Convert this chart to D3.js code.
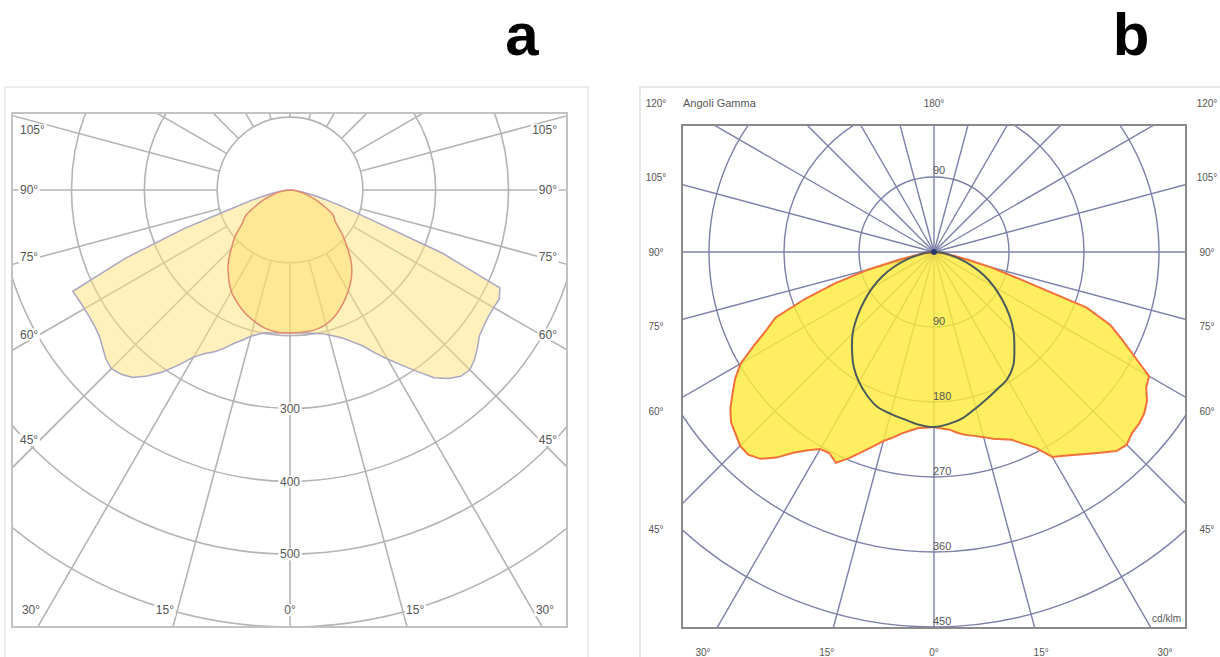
<!DOCTYPE html>
<html>
<head>
<meta charset="utf-8">
<script src="https://cdn.jsdelivr.net/npm/d3@7/dist/d3.min.js"></script>
<style>
  body { margin: 0; background: #fff; }
  svg { display: block; }
  text { font-family: "Liberation Sans", Arial, sans-serif; }
</style>
</head>
<body>
<svg id="chart" width="1220" height="657"></svg>
<script>
// ---------------- data ----------------
// gamma angles (degrees, 0 = nadir) at which intensities are tabulated
const gammaFine   = [0,2.5,5,7.5,10,12.5,15,17.5,20,22.5,25,27.5,30,32.5,35,37.5,40,42.5,45,
                     47.5,50,52.5,55,57.5,60,62.5,65,67.5,70,72.5,75,77.5,80,82.5,85,87.5,90];
const gammaCoarse = [0,5,10,15,20,25,30,35,40,45,50,55,60,65,70,75,80,85,90];

// luminaire a — intensities in cd/klm
const aTransverseLeft  = [196,196,197,198,199,203,208,216,224,235,245,253,265,285,305,322,336,343,347,
                          343,336,330,327,326,326,327,329,245,154,82,55,35,22,13,7,3,0];
const aTransverseRight = [196,196,197,198,200,202,206,211,217,226,236,252,268,285,304,325,338,347,349,
                          344,336,328,325,323,323,324,318,226,116,75,50,33,20,12,6,2,0];
const aAxialLeft  = [196,196,193,187,180,171,161,147,132,114,98,80,70,52,37,24,13,5,0];
const aAxialRight = [196,196,195,191,183,172,160,147,131,111,93,76,68,50,35,23,12,5,0];

// luminaire b — intensities in cd/klm
const bTransverseLeft  = [210,211,212,216,221,228,235,245,256,268,279,272,273,282,294,311,324,330,329,
                          323,318,308,295,283,268,244,222,206,165,124,82,43,22,12,6,2,0];
const bTransverseRight = [210,212,214,219,223,226,230,235,239,244,254,265,284,290,297,305,314,324,327,
                          322,321,318,312,302,298,271,249,229,195,108,70,40,22,12,6,2,0];
const bAxialLeft  = [210,208,204,201,198,190,180,168,153,138,120,102,85,68,50,33,18,8,0];
const bAxialRight = [210,207,202,194,187,181,176,166,150,135,118,100,83,66,48,32,18,8,0];

// grid values
const ringsA = [100,200,300,400,500,600];
const ringLabelsA = [300,400,500];
const ringsB = [90,180,270,360,450];
const rayAngles = [0,15,30,45,60,75,90,105,120,135,150,165,180];
const sideLabelAnglesA = [45,60,75,90,105];
const bottomLabelAngles = [0,15,30];
const sideLabelAnglesB = [45,60,75,90,105,120];

// ---------------- helpers ----------------
const svg = d3.select("#chart");
const defs = svg.append("defs");
const rad = d => d * Math.PI / 180;
// lineRadial angle: right half (side +1) and left half (side -1), gamma measured from nadir
const theta = (g, side) => Math.PI - side * rad(g);

function outline(gammas, left, right) {
  const L = gammas.map((g, i) => ({ g, v: left[i], side: -1 })).reverse();
  const R = gammas.map((g, i) => ({ g, v: right[i], side: 1 })).slice(1);
  return L.concat(R);
}

function polarLine(r, curve) {
  return d3.lineRadial()
    .angle(d => theta(d.g, d.side))
    .radius(d => r(d.v))
    .curve(curve);
}

function labelWithBg(g, x, y, txt, anchor, size, color) {
  const t = g.append("text")
    .attr("x", x).attr("y", y)
    .attr("dy", "0.35em")
    .attr("text-anchor", anchor)
    .attr("font-size", size)
    .attr("fill", color)
    .text(txt);
  const b = t.node().getBBox();
  g.insert("rect", () => t.node())
    .attr("x", b.x - 1.5).attr("y", b.y + 1)
    .attr("width", b.width + 3).attr("height", b.height - 2)
    .attr("fill", "#fff");
  return t;
}

function rays(g, r, inner) {
  const data = [];
  rayAngles.forEach(a => {
    data.push({ g: a, side: 1 });
    if (a !== 0 && a !== 180) data.push({ g: a, side: -1 });
  });
  g.selectAll("line.ray").data(data).join("line")
    .attr("class", "ray")
    .each(function (d) {
      const p0 = d3.pointRadial(theta(d.g, d.side), r(inner));
      const p1 = d3.pointRadial(theta(d.g, d.side), 900);
      d3.select(this).attr("x1", p0[0]).attr("y1", p0[1]).attr("x2", p1[0]).attr("y2", p1[1]);
    });
}

// ---------------- titles ----------------
svg.append("text").attr("x", 522).attr("y", 55).attr("text-anchor", "middle")
  .attr("font-size", 60).attr("font-weight", "bold").attr("fill", "#000").text("a");
svg.append("text").attr("x", 1131).attr("y", 55).attr("text-anchor", "middle")
  .attr("font-size", 60).attr("font-weight", "bold").attr("fill", "#000").text("b");

// ================= panel a =================
(function () {
  const cx = 290, cy = 190;
  const fx0 = 12, fy0 = 113, fx1 = 567, fy1 = 627;
  const r = d3.scaleLinear().domain([0, 600]).range([0, 437]);

  svg.append("rect").attr("x", 5).attr("y", 87).attr("width", 583).attr("height", 580)
    .attr("fill", "#fff").attr("stroke", "#ececec").attr("stroke-width", 2);

  defs.append("clipPath").attr("id", "clipA").append("rect")
    .attr("x", fx0).attr("y", fy0).attr("width", fx1 - fx0).attr("height", fy1 - fy0);

  const grid = svg.append("g").attr("clip-path", "url(#clipA)")
    .append("g").attr("transform", `translate(${cx},${cy})`)
    .attr("stroke", "#b4b4b4").attr("stroke-width", 1.6).attr("fill", "none");
  grid.selectAll("circle").data(ringsA).join("circle").attr("r", d => r(d));
  rays(grid, r, 100);

  const plot = svg.append("g").attr("transform", `translate(${cx},${cy})`);
  plot.append("path")
    .attr("d", polarLine(r, d3.curveLinearClosed)(outline(gammaFine, aTransverseLeft, aTransverseRight)))
    .attr("fill", "#ffe27a").attr("fill-opacity", 0.5)
    .attr("stroke", "#aaa6c4").attr("stroke-width", 1.5);
  plot.append("path")
    .attr("d", polarLine(r, d3.curveCatmullRomClosed)(outline(gammaCoarse, aAxialLeft, aAxialRight)))
    .attr("fill", "#ffdc60").attr("fill-opacity", 0.42)
    .attr("stroke", "#e28a6c").attr("stroke-width", 1.5);

  svg.append("rect").attr("x", fx0).attr("y", fy0).attr("width", fx1 - fx0).attr("height", fy1 - fy0)
    .attr("fill", "none").attr("stroke", "#c2c2c2").attr("stroke-width", 2);

  const lab = svg.append("g");
  const col = "#555", fs = 12;
  sideLabelAnglesA.forEach(a => {
    let y = cy + (cx - 40) * Math.cos(rad(a)) / Math.sin(rad(a));
    y = Math.max(fy0 + 17, Math.min(fy1 - 17, y));
    labelWithBg(lab, 20, y, a + "°", "start", fs, col);
    labelWithBg(lab, 557, y, a + "°", "end", fs, col);
  });
  bottomLabelAngles.forEach(a => {
    const dx = (fy1 - cy + 30) * Math.tan(rad(a));
    const xl = Math.max(fx0 + 19, cx - dx), xr = Math.min(fx1 - 22, cx + dx);
    labelWithBg(lab, xl, 610, a + "°", "middle", fs, col);
    if (a !== 0) labelWithBg(lab, xr, 610, a + "°", "middle", fs, col);
  });
  ringLabelsA.forEach(v => labelWithBg(lab, cx, cy + r(v), String(v), "middle", fs, col));
})();

// ================= panel b =================
(function () {
  const cx = 934, cy = 252;
  const fx0 = 682, fy0 = 125, fx1 = 1186, fy1 = 628;
  const r = d3.scaleLinear().domain([0, 450]).range([0, 375]);

  svg.append("path").attr("d", "M640,657 V87 H1220")
    .attr("fill", "none").attr("stroke", "#e8e8e8").attr("stroke-width", 2);

  defs.append("clipPath").attr("id", "clipB").append("rect")
    .attr("x", fx0).attr("y", fy0).attr("width", fx1 - fx0).attr("height", fy1 - fy0);

  const grid = svg.append("g").attr("clip-path", "url(#clipB)")
    .append("g").attr("transform", `translate(${cx},${cy})`)
    .attr("stroke", "#7c80a8").attr("stroke-width", 1.4).attr("fill", "none");
  grid.selectAll("circle").data(ringsB).join("circle").attr("r", d => r(d));
  rays(grid, r, 0);

  const plot = svg.append("g").attr("transform", `translate(${cx},${cy})`);
  plot.append("path")
    .attr("d", polarLine(r, d3.curveLinearClosed)(outline(gammaFine, bTransverseLeft, bTransverseRight)))
    .attr("fill", "#ffea3c").attr("fill-opacity", 0.82)
    .attr("stroke", "#f2703a").attr("stroke-width", 2);
  plot.append("path")
    .attr("d", polarLine(r, d3.curveCatmullRomClosed)(outline(gammaCoarse, bAxialLeft, bAxialRight)))
    .attr("fill", "none").attr("stroke", "#4c5a5c").attr("stroke-width", 2);
  plot.append("circle").attr("r", 3).attr("fill", "#2c3a70");

  svg.append("rect").attr("x", fx0).attr("y", fy0).attr("width", fx1 - fx0).attr("height", fy1 - fy0)
    .attr("fill", "none").attr("stroke", "#8a8a8a").attr("stroke-width", 2);

  const lab = svg.append("g").attr("fill", "#555");
  const fs = 10;
  // ring values along the vertical axis
  lab.append("text").attr("x", cx - 1).attr("y", cy - r(ringsB[0]) - 3)
    .attr("font-size", 11).text(String(ringsB[0]));
  ringsB.forEach(v => lab.append("text").attr("x", cx - 1).attr("y", cy + r(v) - 2)
    .attr("font-size", 11).text(String(v)));

  // gamma angles around the frame
  sideLabelAnglesB.forEach(a => {
    let y = cy + (cx - 657) * Math.cos(rad(a)) / Math.sin(rad(a));
    y = Math.max(103, Math.min(652, y));
    lab.append("text").attr("x", 656).attr("y", y).attr("dy", "0.35em")
      .attr("text-anchor", "middle").attr("font-size", fs).text(a + "°");
    lab.append("text").attr("x", 1207).attr("y", y).attr("dy", "0.35em")
      .attr("text-anchor", "middle").attr("font-size", fs).text(a + "°");
  });
  bottomLabelAngles.forEach(a => {
    const dx = (652 - cy) * Math.tan(rad(a));
    lab.append("text").attr("x", cx - dx).attr("y", 652).attr("dy", "0.35em")
      .attr("text-anchor", "middle").attr("font-size", fs).text(a + "°");
    if (a !== 0) lab.append("text").attr("x", cx + dx).attr("y", 652).attr("dy", "0.35em")
      .attr("text-anchor", "middle").attr("font-size", fs).text(a + "°");
  });
  lab.append("text").attr("x", cx).attr("y", 103).attr("dy", "0.35em")
    .attr("text-anchor", "middle").attr("font-size", fs).text("180°");
  lab.append("text").attr("x", 683).attr("y", 103).attr("dy", "0.35em")
    .attr("font-size", 11).text("Angoli Gamma");
  lab.append("text").attr("x", 1181).attr("y", 622)
    .attr("text-anchor", "end").attr("font-size", 10).text("cd/klm");
})();
</script>
</body>
</html>
